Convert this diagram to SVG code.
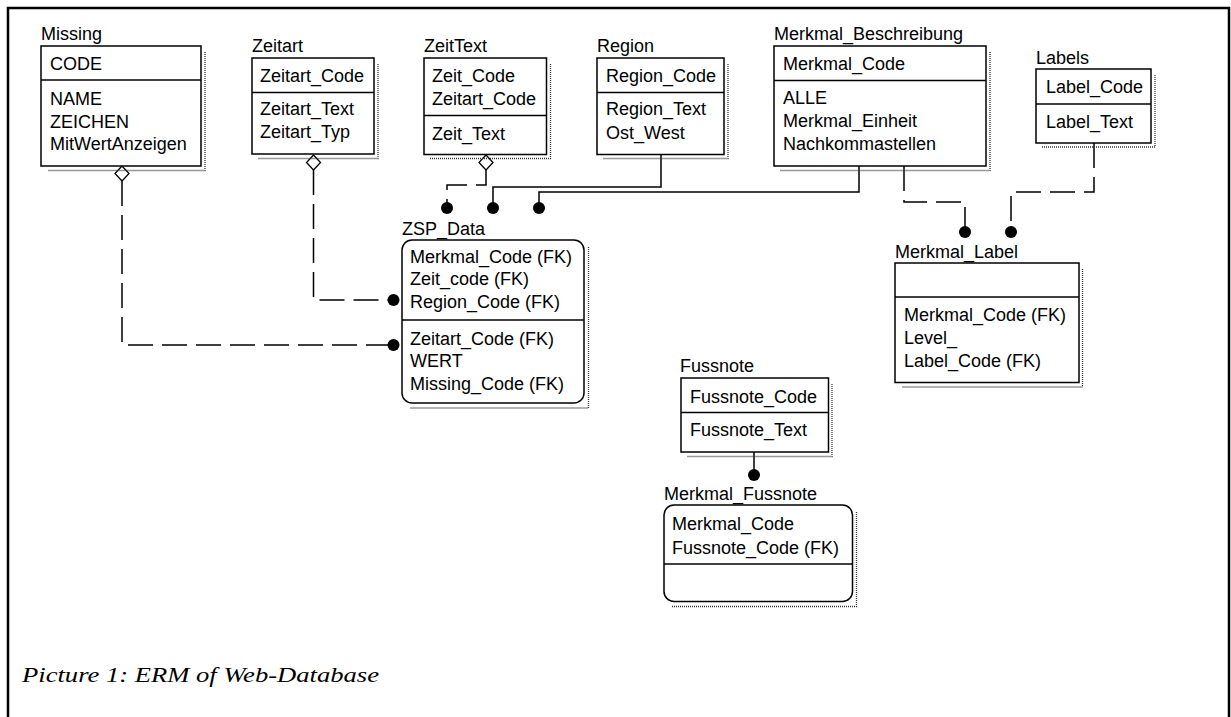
<svg xmlns="http://www.w3.org/2000/svg" width="1231" height="717" viewBox="0 0 1231 717">
<style>
.bg{fill:#fff}
.frame{fill:none;stroke:#000;stroke-width:2.5}
.box{fill:#fff;stroke:#000;stroke-width:1.5}
.div{stroke:#000;stroke-width:1.5}
.sh{fill:none;stroke:#333;stroke-width:1.3;stroke-dasharray:1 1}
.t{font-family:"Liberation Sans",Arial,sans-serif;font-size:18px;fill:#000}
.cap{font-family:"Liberation Serif","Times New Roman",serif;font-size:22px;font-style:italic;fill:#000}
.c{fill:none;stroke:#000;stroke-width:1.5}
.d{stroke-dasharray:25 9}
.dot{fill:#000}
.dia{fill:#fff;stroke:#000;stroke-width:1.3}
</style>
<rect class="bg" x="0" y="0" width="1231" height="717"/>
<rect class="frame" x="8" y="8" width="1221" height="800"/>

<g id="connectors">
  <path class="c d" d="M122,181 V345 H388"/>
  <path class="c d" d="M313.5,170 V300 H388"/>
  <path class="c d" d="M486,170 V185 H447 V203"/>
  <path class="c" d="M661,154 V187 H493 V203"/>
  <path class="c" d="M859,166 V192 H539 V203"/>
  <path class="c d" d="M904,166 V202 H965 V227"/>
  <path class="c d" d="M1094,143 V192 H1011 V227"/>
  <path class="c" d="M754,452 V470"/>
  <polygon class="dia" points="122,166 129,173.5 122,181 115,173.5"/>
  <polygon class="dia" points="313.5,155 320.5,162.5 313.5,170 306.5,162.5"/>
  <polygon class="dia" points="486,155 493,162.5 486,170 479,162.5"/>
  <circle class="dot" cx="393.5" cy="345" r="6"/>
  <circle class="dot" cx="393.5" cy="300" r="6"/>
  <circle class="dot" cx="447" cy="208" r="6"/>
  <circle class="dot" cx="493" cy="208" r="6"/>
  <circle class="dot" cx="539" cy="208" r="6"/>
  <circle class="dot" cx="965" cy="232" r="6"/>
  <circle class="dot" cx="1011" cy="232" r="6"/>
  <circle class="dot" cx="754" cy="475" r="6"/>
</g>

<g id="Missing">
  <path class="sh" d="M205,52 V170.5 H48"/>
  <rect class="box" x="41" y="46" width="160" height="120"/>
  <line class="div" x1="41" y1="80" x2="201" y2="80"/>
  <text class="t" x="41" y="40">Missing</text>
  <text class="t" x="50" y="70">CODE</text>
  <text class="t" x="50" y="105">NAME</text>
  <text class="t" x="50" y="128">ZEICHEN</text>
  <text class="t" x="50" y="150">MitWertAnzeigen</text>
</g>

<g id="Zeitart">
  <path class="sh" d="M378,64 V158.5 H258"/>
  <rect class="box" x="252" y="58" width="122" height="96"/>
  <line class="div" x1="252" y1="92.5" x2="374" y2="92.5"/>
  <text class="t" x="252" y="52">Zeitart</text>
  <text class="t" x="260" y="82">Zeitart_Code</text>
  <text class="t" x="260" y="115">Zeitart_Text</text>
  <text class="t" x="260" y="137.5">Zeitart_Typ</text>
</g>

<g id="ZeitText">
  <path class="sh" d="M550.5,64 V158.5 H430"/>
  <rect class="box" x="424" y="58" width="122.5" height="96.5"/>
  <line class="div" x1="424" y1="115.5" x2="546.5" y2="115.5"/>
  <text class="t" x="424" y="52">ZeitText</text>
  <text class="t" x="432" y="82">Zeit_Code</text>
  <text class="t" x="432" y="105">Zeitart_Code</text>
  <text class="t" x="432" y="140">Zeit_Text</text>
</g>

<g id="Region">
  <path class="sh" d="M728,64 V158.5 H603"/>
  <rect class="box" x="597" y="58" width="127" height="96.5"/>
  <line class="div" x1="597" y1="92.5" x2="724" y2="92.5"/>
  <text class="t" x="597" y="52">Region</text>
  <text class="t" x="606" y="82">Region_Code</text>
  <text class="t" x="606" y="115">Region_Text</text>
  <text class="t" x="606" y="139">Ost_West</text>
</g>

<g id="Merkmal_Beschreibung">
  <path class="sh" d="M990,52 V170.5 H780"/>
  <rect class="box" x="774" y="46" width="212" height="120"/>
  <line class="div" x1="774" y1="80.5" x2="986" y2="80.5"/>
  <text class="t" x="774" y="40">Merkmal_Beschreibung</text>
  <text class="t" x="783" y="70">Merkmal_Code</text>
  <text class="t" x="783" y="104">ALLE</text>
  <text class="t" x="783" y="127">Merkmal_Einheit</text>
  <text class="t" x="783" y="150">Nachkommastellen</text>
</g>

<g id="Labels">
  <path class="sh" d="M1155,75 V147 H1042"/>
  <rect class="box" x="1036" y="69" width="115" height="74"/>
  <line class="div" x1="1036" y1="104" x2="1151" y2="104"/>
  <text class="t" x="1036" y="64">Labels</text>
  <text class="t" x="1046" y="93">Label_Code</text>
  <text class="t" x="1046" y="128">Label_Text</text>
</g>

<g id="ZSP_Data">
  <path class="sh" d="M588.5,247 V408 H410"/>
  <rect class="box" x="402" y="240" width="182" height="163" rx="10" ry="10"/>
  <line class="div" x1="402" y1="320" x2="584" y2="320"/>
  <text class="t" x="402" y="235">ZSP_Data</text>
  <text class="t" x="410" y="263">Merkmal_Code (FK)</text>
  <text class="t" x="410" y="285">Zeit_code (FK)</text>
  <text class="t" x="410" y="308">Region_Code (FK)</text>
  <text class="t" x="410" y="345">Zeitart_Code (FK)</text>
  <text class="t" x="410" y="367">WERT</text>
  <text class="t" x="410" y="390">Missing_Code (FK)</text>
</g>

<g id="Merkmal_Label">
  <path class="sh" d="M1082.5,269 V387 H902"/>
  <rect class="box" x="895" y="263" width="184" height="119.5"/>
  <line class="div" x1="895" y1="297" x2="1079" y2="297"/>
  <text class="t" x="895" y="258">Merkmal_Label</text>
  <text class="t" x="904" y="321">Merkmal_Code (FK)</text>
  <text class="t" x="904" y="343.5">Level_</text>
  <text class="t" x="904" y="366.5">Label_Code (FK)</text>
</g>

<g id="Fussnote">
  <path class="sh" d="M832,384 V456.5 H687"/>
  <rect class="box" x="681" y="378" width="147.5" height="74"/>
  <line class="div" x1="681" y1="412.5" x2="828.5" y2="412.5"/>
  <text class="t" x="680" y="372">Fussnote</text>
  <text class="t" x="690" y="403">Fussnote_Code</text>
  <text class="t" x="690" y="436">Fussnote_Text</text>
</g>

<g id="Merkmal_Fussnote">
  <path class="sh" d="M856.5,512 V606.5 H672"/>
  <rect class="box" x="664" y="505" width="188.5" height="96.5" rx="10" ry="10"/>
  <line class="div" x1="664" y1="564" x2="852.5" y2="564"/>
  <text class="t" x="664" y="500">Merkmal_Fussnote</text>
  <text class="t" x="672" y="530">Merkmal_Code</text>
  <text class="t" x="672" y="553.5">Fussnote_Code (FK)</text>
</g>

<text class="cap" x="22" y="682" textLength="357" lengthAdjust="spacingAndGlyphs">Picture 1: ERM of Web-Database</text>
</svg>
